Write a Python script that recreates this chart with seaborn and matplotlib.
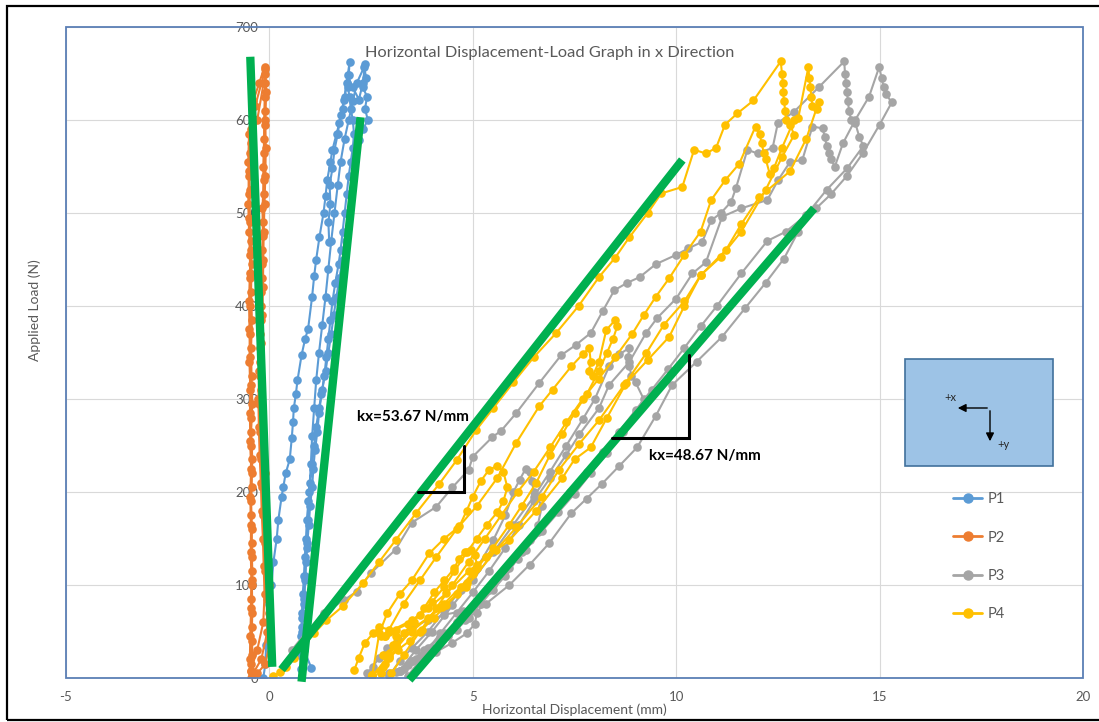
import matplotlib
matplotlib.use("Agg")
import matplotlib.pyplot as plt
from matplotlib.lines import Line2D
from matplotlib.patches import Rectangle
import pandas as pd
import seaborn as sns

# Figure size in pixels (dpi 100)
W, H = 1099, 722

SERIES = ["P1", "P2", "P3", "P4"]
COLORS = {"P1": "#5b9bd5", "P2": "#ed7d31", "P3": "#a5a5a5", "P4": "#ffc000"}

# --- P1: one list per loading/unloading cycle (displacement mm, load N)
p1_disp = [
    [-0.15, -0.1, -0.08, -0.05, -0.02, 0.05, 0.1, 0.18, 0.22, 0.3, 0.34, 0.4,
     0.5, 0.55, 0.58, 0.6, 0.65, 0.69, 0.79, 0.88, 0.95, 1.05, 1.1, 1.15,
     1.23, 1.33, 1.38, 1.42, 1.5, 1.55, 1.65, 1.72, 1.8, 1.84, 1.9, 1.97,
     1.95, 1.93, 1.97, 2.0, 2.05, 2.08, 2.05, 2.0, 1.95, 1.9, 1.85, 1.8,
     1.75, 1.7, 1.62, 1.55, 1.5, 1.45, 1.4, 1.35, 1.28, 1.22, 1.18, 1.12,
     1.08, 1.05, 1.0, 0.97, 0.93, 0.9, 0.88, 0.85, 0.8, 0.78, 0.75, 0.78],
    [0.72, 0.8, 0.85, 0.88, 0.92, 0.95, 0.98, 1.02, 1.05, 1.1, 1.15, 1.22,
     1.3, 1.38, 1.45, 1.52, 1.6, 1.68, 1.75, 1.85, 1.95, 2.05, 2.15, 2.33,
     2.38, 2.3, 2.4, 2.35, 2.42, 2.3, 2.2, 2.1, 2.05, 2.0, 1.95, 1.88,
     1.8, 1.72, 1.65, 1.58, 1.52, 1.45, 1.38, 1.3, 1.22, 1.15, 1.1, 1.05,
     1.0, 0.96, 0.92, 0.9, 0.87, 0.85, 0.82, 0.8, 0.8, 0.85, 1.03],
    [1.47, 1.45, 1.5, 1.48, 1.55, 1.6, 1.68, 1.75, 1.85, 1.92, 2.05, 2.2,
     2.3, 2.35],
]
p1_load = [
    [0, 15, 35, 60, 80, 100, 125, 150, 170, 195, 205, 220,
     235, 258, 275, 290, 305, 320, 347, 365, 375, 410, 432, 450,
     474, 500, 518, 535, 555, 568, 585, 597, 612, 621, 640, 662,
     648, 635, 625, 612, 600, 585, 570, 555, 540, 520, 500, 480,
     460, 445, 425, 405, 385, 365, 345, 325, 305, 285, 265, 245,
     225, 205, 185, 165, 145, 125, 105, 85, 65, 45, 25, 10],
    [30, 55, 80, 110, 140, 170, 200, 230, 260, 290, 320, 350,
     380, 410, 440, 470, 500, 530, 555, 580, 600, 620, 640, 657,
     645, 635, 625, 612, 600, 590, 578, 560, 540, 520, 500, 470,
     450, 430, 410, 390, 370, 350, 330, 310, 290, 270, 250, 230,
     210, 190, 170, 150, 130, 110, 90, 70, 50, 30, 11],
    [469, 490, 510, 530, 548, 568, 585, 605, 625, 648, 635, 622,
     640, 660],
]

# --- P2
p2_disp = [
    [-0.45, -0.3, -0.1, 0.02, 0.0, -0.02, -0.05, -0.08, -0.1, -0.12, -0.15, -0.18,
     -0.2, -0.22, -0.22, -0.2, -0.18, -0.17, -0.15, -0.14, -0.15, -0.13, -0.12, -0.1,
     -0.12, -0.25, -0.4, -0.45, -0.48, -0.5, -0.52, -0.5, -0.48, -0.47, -0.48, -0.47,
     -0.49, -0.47, -0.45, -0.46, -0.44, -0.45, -0.43, -0.44, -0.43, -0.42, -0.44, -0.45,
     -0.4],
    [-0.4, -0.2, -0.05, -0.07, -0.1, -0.12, -0.15, -0.18, -0.2, -0.23, -0.25, -0.24,
     -0.22, -0.2, -0.2, -0.18, -0.16, -0.17, -0.14, -0.13, -0.12, -0.11, -0.1, -0.3,
     -0.45, -0.5, -0.48, -0.5, -0.45, -0.44, -0.45, -0.43, -0.45, -0.44, -0.42, -0.45,
     -0.42, -0.44, -0.46, -0.44, -0.42, -0.45, -0.43, -0.42, -0.46],
    [-0.46, -0.3, -0.15, -0.12, -0.14, -0.16, -0.19, -0.21, -0.24, -0.26, -0.27, -0.25,
     -0.2, -0.17, -0.16, -0.15, -0.14, -0.12, -0.1, -0.09, -0.1, -0.08, -0.1, -0.35,
     -0.5, -0.52, -0.5, -0.47, -0.46, -0.48, -0.5, -0.49, -0.48, -0.46, -0.48, -0.47,
     -0.45, -0.47, -0.45, -0.46, -0.44, -0.45, -0.47, -0.48, -0.44],
]
p2_load = [
    [0, 5, 15, 40, 70, 100, 130, 160, 190, 220, 250, 280,
     310, 340, 370, 400, 430, 460, 490, 520, 550, 580, 610, 640,
     657, 640, 620, 590, 565, 540, 510, 480, 455, 430, 400, 370,
     340, 310, 280, 250, 220, 190, 160, 130, 100, 70, 40, 15,
     5],
    [5, 20, 50, 85, 115, 145, 175, 205, 235, 265, 295, 325,
     355, 385, 415, 445, 475, 505, 535, 565, 595, 625, 650, 600,
     575, 545, 525, 495, 470, 445, 415, 385, 355, 325, 295, 265,
     235, 205, 175, 145, 115, 85, 55, 25, 8],
    [8, 30, 60, 90, 120, 150, 180, 210, 240, 270, 300, 330,
     360, 390, 420, 450, 480, 510, 540, 570, 600, 630, 655, 615,
     585, 555, 520, 490, 460, 435, 405, 375, 345, 315, 285, 255,
     225, 195, 165, 135, 105, 75, 45, 20, 3],
]

# --- P3
p3_disp = [
    [2.4, 2.54, 2.7, 2.9, 3.15, 3.5, 3.9, 4.3, 4.75, 5.0, 5.1, 5.05,
     4.85, 4.5, 4.1, 3.7, 3.3, 2.95],
    [2.95, 3.2, 3.5, 3.9, 4.3, 4.7, 5.1, 5.5, 5.8, 6.0, 6.15, 6.3,
     6.4, 6.45, 6.5, 6.7, 6.6, 6.4, 6.1, 5.8, 5.5, 5.2, 4.8, 4.4,
     4.0, 3.6, 3.2],
    [3.2, 3.6, 4.0, 4.5, 5.0, 5.5, 6.0, 6.5, 6.9, 7.3, 7.7, 8.0,
     8.35, 8.6, 8.85, 8.82, 8.85, 8.9, 9.0, 9.2, 9.0, 8.7, 8.3, 7.9,
     7.5, 7.1, 6.7, 6.3, 5.9, 5.5, 5.1, 4.7, 4.3, 3.9, 3.5, 3.1],
    [0.55, 0.94, 1.35, 1.84, 2.15, 2.5, 3.1, 3.5, 4.1, 4.5, 4.9, 5.0,
     5.48, 5.7, 6.07, 6.63, 7.17, 7.53, 7.9, 8.2, 8.48, 8.8, 9.1, 9.5,
     10.0, 10.3, 10.64, 10.86, 11.1, 11.35, 11.47, 11.75, 12.0, 12.37, 12.5, 12.9,
     13.5, 14.13, 14.15, 14.17, 14.2, 14.22, 14.25, 14.3, 14.4, 14.5, 14.6, 14.2,
     13.7, 13.2, 12.7, 12.24, 11.6, 11.0, 10.6, 10.2, 9.8, 9.4, 9.0, 8.6,
     8.2, 7.8, 7.4, 7.0, 6.6, 6.2, 5.8, 5.4, 5.0, 4.6, 4.2, 3.8,
     3.5, 3.2],
    [3.4, 3.8, 4.2, 4.6, 5.0, 5.4, 5.8, 6.14, 6.5, 6.9, 7.3, 7.62,
     8.1, 8.35, 8.85, 9.26, 9.53, 10.0, 10.4, 10.73, 11.13, 11.6, 12.24, 12.5,
     12.8, 13.1, 13.35, 13.6, 13.65, 13.7, 13.75, 13.8, 13.9, 14.1, 14.4, 14.74,
     14.99, 15.05, 15.1, 15.15, 15.3, 15.0, 14.6, 14.2, 13.8, 13.44, 13.0, 12.65,
     12.2, 11.7, 11.13, 10.5, 9.9, 9.5, 9.04, 8.6, 8.18, 7.8, 7.42, 6.88,
     6.4, 5.9, 5.33, 4.9, 4.6, 4.2, 3.8, 3.4, 2.95],
]
p3_load = [
    [5, 12, 22, 32, 42, 55, 62, 68, 72, 76, 70, 58,
     48, 38, 28, 18, 10, 3],
    [3, 18, 32, 50, 72, 95, 118, 148, 175, 200, 213, 225,
     222, 212, 200, 185, 165, 148, 128, 110, 95, 80, 62, 45,
     32, 20, 8],
    [8, 30, 50, 78, 105, 135, 165, 195, 222, 250, 278, 300,
     335, 348, 355, 345, 335, 325, 318, 300, 285, 265, 242, 220,
     198, 178, 158, 138, 118, 100, 82, 65, 48, 32, 18, 6],
    [30, 51, 70, 84, 93, 113, 138, 167, 184, 205, 224, 238,
     259, 266, 285, 317, 347, 358, 371, 395, 417, 425, 431, 445,
     455, 462, 469, 492, 500, 512, 527, 568, 564, 570, 597, 609,
     635, 663, 650, 640, 630, 620, 610, 600, 597, 582, 572, 548,
     525, 498, 480, 470, 435, 400, 378, 355, 332, 310, 288, 265,
     243, 222, 200, 178, 157, 135, 115, 95, 77, 60, 44, 30,
     18, 8],
    [2, 25, 48, 70, 92, 115, 140, 165, 190, 215, 240, 262,
     290, 315, 340, 371, 387, 408, 435, 447, 496, 505, 514, 535,
     555, 557, 593, 591, 582, 572, 565, 558, 550, 575, 600, 625,
     657, 645, 635, 628, 619, 595, 565, 540, 520, 505, 480, 451,
     425, 398, 367, 340, 315, 282, 248, 228, 209, 193, 177, 145,
     122, 100, 80, 65, 52, 38, 25, 14, 5],
]

# --- P4
p4_disp = [
    [2.09, 2.2, 2.35, 2.55, 2.7, 2.95, 3.1, 3.05, 2.95, 2.83, 2.75],
    [2.75, 2.9, 3.1, 3.3, 3.55, 3.8, 4.05, 4.3, 4.55, 4.65, 4.8, 4.95,
     5.05, 5.1, 5.0, 4.85, 4.6, 4.35, 4.05, 3.75, 3.45, 3.15, 2.95, 2.8,
     2.53],
    [2.53, 2.7, 2.9, 3.2, 3.5, 3.93, 4.3, 4.67, 4.85, 5.0, 5.2, 5.4,
     5.6, 5.75, 5.85, 5.75, 5.6, 5.35, 5.1, 4.85, 4.55, 4.3, 4.0, 3.7,
     3.4, 3.1, 2.85],
    [2.85, 3.3, 3.7, 4.1, 4.6, 5.1, 5.6, 6.07, 6.63, 6.96, 7.42, 7.7,
     7.86, 7.9, 7.85, 7.95, 8.1, 8.28, 8.5, 8.55, 8.45, 8.3, 8.1, 7.8,
     7.5, 7.2, 6.9, 6.56, 6.2, 5.9, 5.5, 5.1, 4.7, 4.3, 3.9, 3.5,
     3.1, 2.8],
    [0.1, 0.25, 0.4, 0.6, 0.85, 1.1, 1.4, 1.8, 2.3, 2.7, 3.1, 3.6,
     4.18, 4.6, 5.09, 5.5, 6.0, 6.5, 7.05, 7.6, 8.1, 8.5, 8.85, 9.3,
     9.63, 10.15, 10.44, 10.73, 10.98, 11.2, 11.5, 11.9, 12.57, 12.6, 12.62, 12.63,
     12.65, 12.68, 12.7, 12.8, 12.9, 12.6, 12.2, 11.6, 11.1, 10.6, 10.2, 9.7,
     9.26, 8.72, 8.1, 7.62, 7.12, 6.7, 6.07, 5.58, 4.84, 4.25, 3.5, 2.95,
     2.53],
    [3.0, 3.3, 3.7, 4.1, 4.5, 4.9, 5.3, 5.7, 6.1, 6.5, 6.9, 7.3,
     7.7, 8.1, 8.5, 8.92, 9.2, 9.5, 9.83, 10.2, 10.6, 10.86, 11.2, 11.55,
     11.95, 12.05, 12.1, 12.15, 12.2, 12.3, 12.4, 12.6, 12.9, 13.0, 13.25, 13.27,
     13.3, 13.32, 13.35, 13.45, 13.5, 13.2, 12.8, 12.04, 11.6, 11.22, 10.6, 10.2,
     9.83, 9.3, 8.77, 8.3, 7.9, 7.5, 7.2, 6.56, 5.9, 5.33, 4.9, 4.35,
     3.9, 3.5, 2.95, 2.75],
]
p4_load = [
    [9, 22, 38, 48, 55, 52, 45, 35, 25, 15, 5],
    [5, 22, 35, 48, 60, 75, 92, 105, 118, 128, 135, 138,
     132, 122, 112, 102, 90, 78, 65, 52, 40, 30, 22, 12,
     3],
    [3, 48, 70, 90, 105, 134, 150, 163, 180, 195, 212, 224,
     228, 222, 205, 190, 178, 165, 150, 135, 115, 98, 82, 68,
     58, 52, 45],
    [45, 80, 105, 130, 160, 185, 215, 253, 292, 310, 335, 348,
     355, 340, 330, 325, 340, 374, 385, 378, 365, 350, 330, 305,
     285, 262, 240, 210, 185, 165, 140, 118, 98, 80, 65, 50,
     35, 25],
    [2, 6, 12, 22, 35, 48, 62, 77, 102, 125, 148, 177,
     209, 234, 267, 290, 318, 345, 371, 400, 431, 452, 474, 500,
     521, 528, 568, 564, 570, 595, 607, 621, 663, 650, 640, 630,
     620, 610, 600, 595, 584, 560, 525, 480, 453, 433, 405, 380,
     349, 315, 277, 252, 224, 195, 162, 138, 98, 76, 52, 23,
     3],
    [5, 25, 50, 75, 100, 125, 150, 175, 200, 222, 248, 275,
     300, 322, 345, 370, 390, 410, 430, 455, 480, 514, 535, 553,
     593, 585, 575, 565, 558, 542, 548, 570, 600, 602, 657, 645,
     635, 625, 615, 612, 619, 580, 545, 517, 488, 460, 433, 400,
     367, 342, 317, 280, 248, 235, 215, 180, 148, 130, 115, 91,
     75, 62, 50, 45],
]

# Stiffness fit lines drawn in green (start/end points)
fit_disp = [[-0.47, 0.07], [0.79, 2.24], [0.3, 10.15], [3.44, 13.39]]
fit_load = [[668, 12], [-4, 603], [9, 557], [-2, 505]]

# Slope triangles and their labels
tri_disp = [[3.66, 4.78, 4.78], [8.43, 10.32, 10.32]]
tri_load = [[200, 200, 250], [258, 258, 347]]
tri_labels = ["kx=53.67 N/mm", "kx=48.67 N/mm"]
tri_label_pos = [(2.16, 281), (9.34, 239)]

X_TICKS = [-5, 0, 5, 10, 15, 20]
Y_TICKS = [0, 100, 200, 300, 400, 500, 600, 700]

GRAY_TXT = "#595959"
BORDER = "#5b7fb5"


def fp(px, py):
    """pixel position (from top-left) -> figure fraction"""
    return px / W, 1 - py / H


def build_frame():
    rows = []
    for name, xs_all, ys_all in [("P1", p1_disp, p1_load), ("P2", p2_disp, p2_load),
                                 ("P3", p3_disp, p3_load), ("P4", p4_disp, p4_load)]:
        for i, (xs, ys) in enumerate(zip(xs_all, ys_all, strict=True)):
            for x, y in zip(xs, ys, strict=True):
                rows.append({"series": name, "cycle": f"{name}-{i}", "disp": x, "load": y})
    return pd.DataFrame(rows)


def main():
    sns.set_theme(style="white")
    plt.rcParams["font.family"] = ["Lato", "DejaVu Sans"]
    plt.rcParams["axes.unicode_minus"] = False

    df = build_frame()

    fig = plt.figure(figsize=(W / 100, H / 100), dpi=100)
    x0, y0 = fp(66, 678)
    x1, y1 = fp(1083, 27)
    ax = fig.add_axes([x0, y0, x1 - x0, y1 - y0])

    sns.lineplot(data=df, x="disp", y="load", hue="series", hue_order=SERIES,
                 units="cycle", estimator=None, sort=False, palette=COLORS,
                 marker="o", markersize=6.2, markeredgewidth=0, linewidth=1.5,
                 legend=False, ax=ax)

    ax.set_xlim(-5, 20)
    ax.set_ylim(0, 700)
    ax.set_xticks(X_TICKS)
    ax.set_yticks(Y_TICKS)
    ax.set_axisbelow(True)
    ax.grid(True, color="#d9d9d9", linewidth=0.8)

    # y labels sit next to x = 0 like the Excel value axis
    for side in ["left", "right", "top", "bottom"]:
        ax.spines[side].set_visible(False)
    ax.spines["left"].set_position(("data", 0))
    ax.tick_params(axis="both", length=0, labelsize=9.5, labelcolor=GRAY_TXT)
    ax.tick_params(axis="y", pad=8)
    ax.tick_params(axis="x", pad=9.5)
    ax.add_patch(Rectangle((0, 0), 1, 1, transform=ax.transAxes, fill=False,
                           edgecolor=BORDER, linewidth=1.3, clip_on=False, zorder=3))

    ax.set_xlabel("Horizontal Displacement (mm)", fontsize=10, color=GRAY_TXT)
    ax.xaxis.set_label_coords(0.5, (678 - 710) / 651)
    ax.xaxis.label.set_va("center")
    ax.set_ylabel("Applied Load (N)", fontsize=10, color=GRAY_TXT)
    ax.yaxis.set_label_coords((35 - 66) / 1017, (678 - 310) / 651)
    ax.yaxis.label.set_va("center")

    ax.text((550 - 66) / 1017, (678 - 53) / 651,
            "Horizontal Displacement-Load Graph in x Direction",
            transform=ax.transAxes, ha="center", va="center",
            fontsize=11.8, color=GRAY_TXT)

    # green fit lines
    for xs, ys in zip(fit_disp, fit_load):
        ax.plot(xs, ys, color="#00b050", linewidth=6, solid_capstyle="butt",
                zorder=5, clip_on=False)

    # slope triangles
    for xs, ys in zip(tri_disp, tri_load):
        ax.plot(xs, ys, color="black", linewidth=2.2, zorder=6,
                solid_joinstyle="miter")
    for lab, (tx, ty) in zip(tri_labels, tri_label_pos):
        ax.text(tx, ty, lab, ha="left", va="center", fontsize=11,
                fontweight="bold", color="black", zorder=7)

    # direction sketch
    bx, by = fp(905, 466)
    bx2, by2 = fp(1053, 359)
    fig.patches.append(Rectangle((bx, by), bx2 - bx, by2 - by, transform=fig.transFigure,
                                 facecolor="#9dc3e6", edgecolor="#41719c",
                                 linewidth=1.2, zorder=6))
    arrow = dict(arrowstyle="-|>", color="black", lw=1.0, mutation_scale=12)
    fig.add_artist(plt.annotate("", xy=fp(955, 408), xytext=fp(990, 408),
                                xycoords="figure fraction", textcoords="figure fraction",
                                arrowprops=arrow, zorder=7))
    fig.add_artist(plt.annotate("", xy=fp(990, 444), xytext=fp(990, 408),
                                xycoords="figure fraction", textcoords="figure fraction",
                                arrowprops=arrow, zorder=7))
    fig.text(*fp(950, 398), "+x", fontsize=8, ha="center", va="center", zorder=8)
    fig.text(*fp(1003, 444), "+y", fontsize=8, ha="center", va="center", zorder=8)

    # legend
    handles = [Line2D([], [], color=COLORS[s], marker="o", markersize=6.5,
                      linewidth=2) for s in SERIES]
    ax.legend(handles, SERIES, loc="upper left", bbox_to_anchor=fp(953, 492),
              bbox_transform=fig.transFigure, frameon=False, fontsize=10.5,
              labelcolor=GRAY_TXT, borderpad=0, borderaxespad=0,
              labelspacing=1.68, handlelength=2.0, handletextpad=0.35)

    # outer chart frame
    fx, fy = fp(7, 720)
    fig.patches.append(Rectangle((fx, fy), 1.2, (720 - 6) / H, transform=fig.transFigure,
                                 fill=False, edgecolor="black", linewidth=1.6, zorder=10))

    fig.savefig("out.png", dpi=100, facecolor="white")
    plt.close(fig)


if __name__ == "__main__":
    main()
